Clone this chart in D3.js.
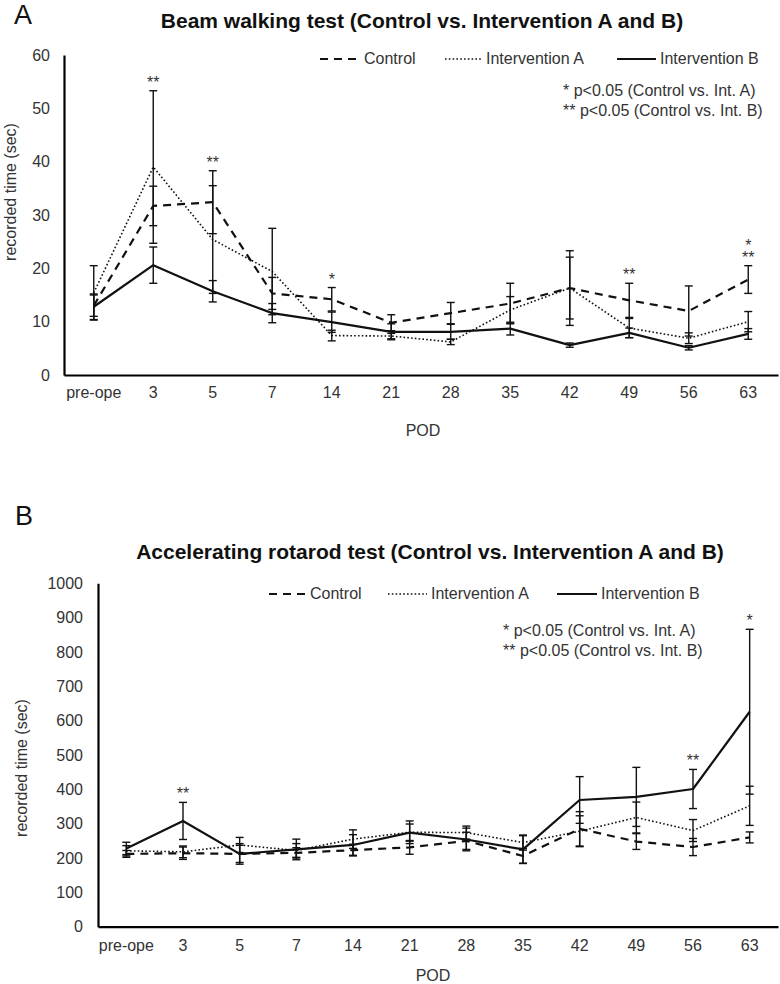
<!DOCTYPE html>
<html><head><meta charset="utf-8">
<script src="https://cdn.jsdelivr.net/npm/d3@7"></script>
<style>body{margin:0;background:#fff}svg{display:block}</style>
</head><body>
<svg id="c" width="780" height="984"></svg>
<script>
const categories = ["pre-ope","3","5","7","14","21","28","35","42","49","56","63"];
const seriesNames = ["Control","Intervention A","Intervention B"];

// Panel A: Beam walking test (sec)
const controlA = [13.0, 31.7, 32.4, 15.3, 14.2, 9.8, 11.6, 13.4, 16.3, 14.0, 12.0, 17.9];
const controlAErr = [2.0, 3.7, 5.9, 3.0, 2.2, 1.5, 2.0, 3.8, 7.0, 3.2, 4.7, 2.6];
const intervAA = [15.4, 39.0, 25.4, 19.4, 7.4, 7.3, 6.2, 12.2, 16.3, 8.8, 6.9, 10.0];
const intervAAErr = [5.1, 14.3, 10.1, 8.1, 1.0, 0.5, 0.5, 2.5, 5.8, 1.8, 1.0, 1.9];
const intervBA = [12.8, 20.6, 15.7, 11.6, 9.9, 8.1, 8.1, 8.7, 5.6, 7.9, 5.1, 7.7];
const intervBAErr = [2.4, 3.4, 2.0, 1.8, 1.9, 1.5, 1.4, 1.2, 0.4, 0.9, 0.4, 1.0];
const sigA = [[],["**"],["**"],[],["*"],[],[],[],[],["**"],[],["*","**"]];
const ticksA = [0,10,20,30,40,50,60];

// Panel B: Accelerating rotarod test (sec)
const controlB = [212, 214, 212, 215, 223, 231, 250, 206, 285, 248, 232, 260];
const controlBErr = [10, 18, 30, 15, 17, 20, 25, 22, 50, 23, 25, 16];
const intervAB = [221, 218, 238, 222, 255, 275, 274, 245, 278, 318, 280, 352];
const intervABErr = [15, 17, 22, 20, 27, 33, 19, 22, 45, 45, 32, 57];
const intervBB = [228, 308, 212, 225, 238, 274, 254, 225, 369, 378, 401, 626];
const intervBBErr = [18, 54, 25, 30, 30, 25, 33, 40, 68, 86, 57, 240];
const sigB = [[],["**"],[],[],[],[],[],[],[],[],["**"],["*"]];
const ticksB = [0,100,200,300,400,500,600,700,800,900,1000];

const notes = ["* p<0.05 (Control vs. Int. A)","** p<0.05 (Control vs. Int. B)"];

const FONT = "'Liberation Sans', Arial, sans-serif";
const FS = 16;
const svg = d3.select("#c");
const styles = [
  {dash:"8,6", width:2.2},
  {dash:"1.6,2.2", width:1.6},
  {dash:null, width:2.2}
];

function panel(o){
  const g = svg.append("g");
  const x = d3.scaleBand().domain(categories).range([o.left, o.right]);
  const y = d3.scaleLinear().domain([0, o.max]).range([o.bottom, o.top]);
  const cx = c => x(c) + x.bandwidth()/2;

  g.append("text").attr("x", o.letterX).attr("y", o.letterY).text(o.letter)
    .attr("font-family", FONT).attr("font-size", 27).attr("fill","#111");
  g.append("text").attr("x", o.titleX).attr("y", o.titleY).text(o.title)
    .attr("text-anchor","middle").attr("font-family", FONT).attr("font-weight","bold")
    .attr("font-size", o.titleSize).attr("fill","#111");

  // axes
  const ya = g.append("g").attr("transform", `translate(${o.left},0)`)
    .call(d3.axisLeft(y).tickValues(o.ticks).tickFormat(d3.format("d")).tickSize(0).tickPadding(o.yPad));
  ya.select(".domain").attr("stroke","#000").attr("stroke-width",2.2);
  ya.selectAll("text").attr("font-family", FONT).attr("font-size", FS).attr("fill","#333");
  const xa = g.append("g").attr("transform", `translate(0,${o.bottom})`)
    .call(d3.axisBottom(x).tickSize(0).tickPadding(o.xPad));
  xa.select(".domain").attr("stroke","#000").attr("stroke-width",2.2);
  xa.selectAll("text").attr("font-family", FONT).attr("font-size", FS).attr("fill","#333");

  g.append("text").attr("transform", `translate(${o.ylabX},${o.ylabY}) rotate(-90)`)
    .attr("text-anchor","middle").text("recorded time (sec)")
    .attr("font-family", FONT).attr("font-size", FS).attr("fill","#333");
  g.append("text").attr("x", o.podX).attr("y", o.podY).attr("text-anchor","middle").text("POD")
    .attr("font-family", FONT).attr("font-size", FS).attr("fill","#333");

  // error bars
  const cap = 4;
  o.data.forEach(([vals, errs]) => {
    const eb = g.append("g");
    vals.forEach((v,i) => {
      const X = cx(categories[i]);
      const y1 = y(v+errs[i]), y0 = y(Math.max(0, v-errs[i]));
      eb.append("line").attr("x1",X).attr("x2",X).attr("y1",y1).attr("y2",y0);
      eb.append("line").attr("x1",X-cap).attr("x2",X+cap).attr("y1",y1).attr("y2",y1);
      eb.append("line").attr("x1",X-cap).attr("x2",X+cap).attr("y1",y0).attr("y2",y0);
    });
    eb.selectAll("line").attr("stroke","#111").attr("stroke-width",1.4);
  });

  // lines
  const line = d3.line().x((d,i)=>cx(categories[i])).y(d=>y(d));
  o.data.forEach(([vals], k) => {
    g.append("path").attr("d", line(vals)).attr("fill","none").attr("stroke","#111")
      .attr("stroke-width", styles[k].width).attr("stroke-dasharray", styles[k].dash)
      .attr("stroke-linejoin","round");
  });

  // significance marks (one text element per point, stacked lines as tspans)
  o.sig.forEach((labels, i) => {
    if (!labels.length) return;
    const top = d3.min(o.data, ([vals, errs]) => y(vals[i]+errs[i]));
    const X = cx(categories[i]);
    const n = labels.length;
    const t = g.append("text").attr("text-anchor","middle")
      .attr("font-family", FONT).attr("font-size", FS).attr("fill","#333");
    labels.forEach((s, j) => {
      t.append("tspan").attr("x", X).attr("y", top - 3 - (n-1-j)*11.5).text(s);
    });
  });

  // legend
  const lg = g.append("g");
  seriesNames.forEach((nm,k) => {
    const [a,b] = o.legend[k];
    lg.append("line").attr("x1",a).attr("x2",b).attr("y1",o.legY-5).attr("y2",o.legY-5)
      .attr("stroke","#111").attr("stroke-width",styles[k].width).attr("stroke-dasharray",styles[k].dash);
    lg.append("text").attr("x",b+4).attr("y",o.legY).text(nm)
      .attr("font-family", FONT).attr("font-size", FS).attr("fill","#333");
  });
  notes.forEach((t,j)=>{
    g.append("text").attr("x", o.noteX).attr("y", o.noteY + j*20).text(t)
      .attr("font-family", FONT).attr("font-size", FS).attr("fill","#333");
  });
}

panel({
  letter:"A", letterX:14, letterY:24,
  title:"Beam walking test (Control vs. Intervention A and B)", titleX:422, titleY:28, titleSize:21,
  left:64, right:778, top:55, bottom:375, max:60, ticks:ticksA, yPad:14, xPad:12,
  ylabX:16, ylabY:192, podX:423, podY:436,
  data:[[controlA,controlAErr],[intervAA,intervAAErr],[intervBA,intervBAErr]], sig:sigA,
  legY:64, legend:[[320,360],[445,482],[617,656]], noteX:563, noteY:96
});
panel({
  letter:"B", letterX:15, letterY:525,
  title:"Accelerating rotarod test (Control vs. Intervention A and B)", titleX:430, titleY:559, titleSize:21,
  left:98, right:778, top:583.3, bottom:926.7, max:1000, ticks:ticksB, yPad:15, xPad:13,
  ylabX:27, ylabY:768, podX:433, podY:981,
  data:[[controlB,controlBErr],[intervAB,intervABErr],[intervBB,intervBBErr]], sig:sigB,
  legY:599, legend:[[269,306],[388,427],[557,597]], noteX:503, noteY:636
});
</script>
</body></html>
